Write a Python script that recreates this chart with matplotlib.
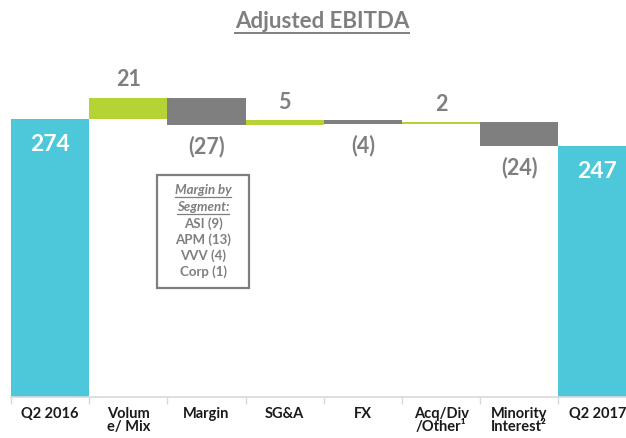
import matplotlib
matplotlib.use("Agg")
import matplotlib.pyplot as plt
from matplotlib.patches import Rectangle
from matplotlib.lines import Line2D

plt.rcParams['font.family'] = ['Lato', 'DejaVu Sans']

# ---- data ----
categories = ["Q2 2016", "Volum\ne/ Mix", "Margin", "SG&A", "FX",
              "Acq/Div\n/Other\u00b9", "Minority\nInterest\u00b2", "Q2 2017"]
values = [274, 21, -27, 5, -4, 2, -24, 247]
kinds = ["total", "delta", "delta", "delta", "delta", "delta", "delta", "total"]
value_labels = ["274", "21", "(27)", "5", "(4)", "2", "(24)", "247"]
title = "Adjusted EBITDA"
box_lines = ["Margin by", "Segment:", "ASI (9)", "APM (13)", "VVV (4)", "Corp (1)"]
box_underlined = [True, True, False, False, False, False]

CYAN = "#4DC8DA"
GREEN = "#B5D334"
GRAY = "#7F7F7F"
TXT_GRAY = "#7F7F7F"

W, H = 626, 438
fig = plt.figure(figsize=(W / 100, H / 100), dpi=100)
ax = fig.add_axes([11 / W, (H - 397) / H, 625.6 / W, 357 / H])
ax.set_xlim(-0.5, len(categories) - 0.5)
ax.set_ylim(0, 352)

running = 0
for i, (v, k) in enumerate(zip(values, kinds)):
    if k == "total":
        bottom, height, color = 0, v, CYAN
        running = v
    else:
        if v >= 0:
            bottom, height, color = running, v, GREEN
        else:
            bottom, height, color = running + v, -v, GRAY
        running += v
    ax.bar(i, height, bottom=bottom, width=1.0, color=color, edgecolor="none")
    if k == "total":
        ax.annotate(value_labels[i], (i, bottom + height), xytext=(0, -18),
                    textcoords="offset points", ha="center", va="center",
                    color="white", fontsize=16.5, fontweight="bold")
    elif v >= 0:
        ax.annotate(value_labels[i], (i, bottom + height), xytext=(0, 13),
                    textcoords="offset points", ha="center", va="center",
                    color=TXT_GRAY, fontsize=15.5, fontweight="bold")
    else:
        ax.annotate(value_labels[i], (i, bottom), xytext=(0, -15),
                    textcoords="offset points", ha="center", va="center",
                    color=TXT_GRAY, fontsize=15.5, fontweight="bold")

for s in ["top", "right", "left"]:
    ax.spines[s].set_visible(False)
ax.spines["bottom"].set_color("#D9D9D9")
ax.spines["bottom"].set_linewidth(1.2)
ax.set_yticks([])
ax.set_xticks(range(len(categories)))
ax.set_xticklabels(categories, fontsize=10.5, fontweight="bold", color="#1A1A1A",
                   linespacing=0.95)
ax.tick_params(axis="x", which="major", length=0, pad=7)
ax.set_xticks([i - 0.5 for i in range(len(categories) + 1)], minor=True)
ax.tick_params(axis="x", which="minor", length=5, color="#D9D9D9", width=1)
ax.patch.set_alpha(0)

# title
t = fig.text(322 / W, 1 - 21 / H, title, ha="center", va="center",
             fontsize=16, fontweight="bold", color=TXT_GRAY)

# margin box
bx0, bx1, by0, by1 = 157, 249, 175, 288
fig.add_artist(Rectangle((bx0 / W, 1 - by1 / H), (bx1 - bx0) / W, (by1 - by0) / H,
                         transform=fig.transFigure, fill=False,
                         edgecolor=GRAY, linewidth=1.6))
texts = []
line_ys = [190, 207, 224, 240, 256, 272]
for txt, yy, ul in zip(box_lines, line_ys, box_underlined):
    tt = fig.text(203 / W, 1 - yy / H, txt, ha="center", va="center",
                  fontsize=9.5, color=TXT_GRAY, fontweight="bold",
                  fontstyle="italic" if ul else "normal")
    texts.append((tt, ul))

fig.canvas.draw()
r = fig.canvas.get_renderer()

def underline(tobj, gap=1.5, lw=1.0):
    bb = tobj.get_window_extent(renderer=r)
    y = (bb.y0 - gap) / fig.bbox.height
    fig.add_artist(Line2D([bb.x0 / fig.bbox.width, bb.x1 / fig.bbox.width], [y, y],
                          transform=fig.transFigure, color=tobj.get_color(), linewidth=lw))

underline(t, gap=1.0, lw=1.4)
for tt, ul in texts:
    if ul:
        underline(tt, gap=0.5, lw=0.9)

fig.savefig("out.png", dpi=100)
